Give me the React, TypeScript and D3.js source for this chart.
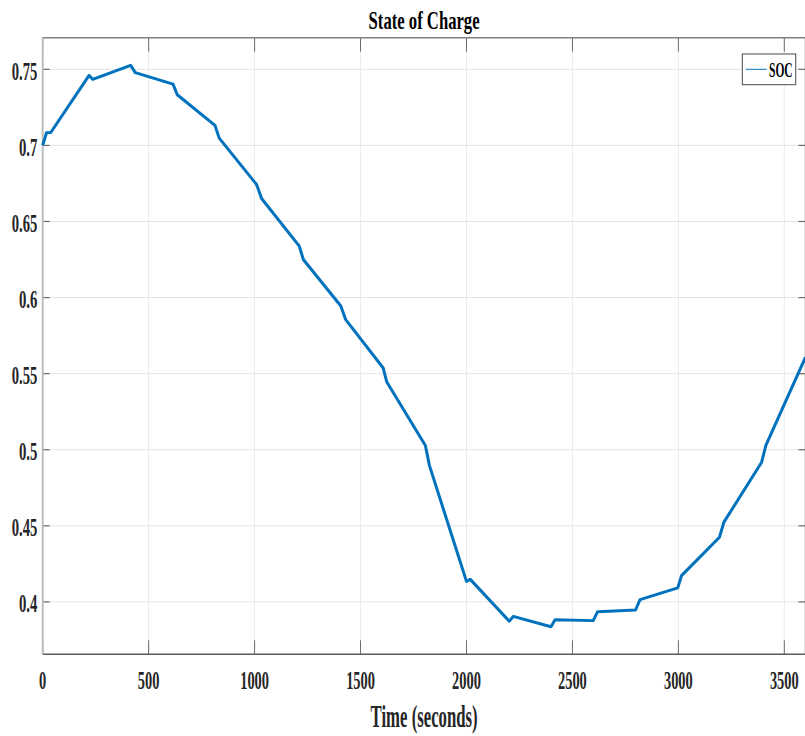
import React from "react";
import * as d3 from "d3";

const timeSec: number[] = [0, 18, 38, 219, 236, 415, 437, 615, 635, 813, 833, 1010, 1033, 1211, 1230, 1407, 1430, 1607, 1624, 1806, 1825, 2000, 2018, 2202, 2221, 2399, 2418, 2598, 2619, 2798, 2819, 2997, 3015, 3194, 3215, 3393, 3413, 3600];
const socValues: number[] = [0.700, 0.7083, 0.7085, 0.7460, 0.7434, 0.7526, 0.7478, 0.7403, 0.7333, 0.7132, 0.7048, 0.6742, 0.6651, 0.6338, 0.6250, 0.5945, 0.5855, 0.5537, 0.5445, 0.5028, 0.4897, 0.4135, 0.4148, 0.3873, 0.3905, 0.3837, 0.3883, 0.3877, 0.3936, 0.3947, 0.4015, 0.4092, 0.4173, 0.4425, 0.4524, 0.4918, 0.5028, 0.5608];
const xTicks: number[] = [0, 500, 1000, 1500, 2000, 2500, 3000, 3500];
const yTicks: number[] = [0.4, 0.45, 0.5, 0.55, 0.6, 0.65, 0.7, 0.75];
const yTickLabels: string[] = ["0.4", "0.45", "0.5", "0.55", "0.6", "0.65", "0.7", "0.75"];
const titleText = "State of Charge";
const xLabelText = "Time (seconds)";
const legendLabel = "SOC";

const W = 805, H = 736;
const L = 42.7, R = 805.5, T = 37.7, B = 654.3;
const FONT = "'Liberation Serif', 'Times New Roman', serif";
const BLUE = "#0072BD";

function labelLen(s: string): number {
  let w = 0;
  for (const c of s) w += c === "." ? 4 : 7.2;
  return w;
}

export default function App() {
  const x = d3.scaleLinear().domain([0, 3600]).range([L, R]);
  const y = d3.scaleLinear().domain([0.36557, 0.77078]).range([B, T]);
  const pts: [number, number][] = timeSec.map((t, i) => [t, socValues[i]]);
  const line = d3.line<[number, number]>().x(d => x(d[0])).y(d => y(d[1]));

  return (
    <svg width={W} height={H} style={{ position: "absolute", left: 0, top: 0, background: "#fff" }} fontFamily={FONT}>
      <rect x={0} y={0} width={W} height={H} fill="#fff" />
      {/* grid */}
      {xTicks.map(t => (
        <line key={"gx" + t} x1={x(t)} x2={x(t)} y1={T} y2={B} stroke="#ebebeb" strokeWidth={1} />
      ))}
      {yTicks.map(t => (
        <line key={"gy" + t} x1={L} x2={R} y1={y(t)} y2={y(t)} stroke="#e3e3e3" strokeWidth={1} />
      ))}
      {/* ticks */}
      {xTicks.map(t => (
        <g key={"tx" + t}>
          <line x1={x(t)} x2={x(t)} y1={B} y2={B - 14} stroke="#6b6b6b" strokeWidth={1} />
          <line x1={x(t)} x2={x(t)} y1={T} y2={T + 14} stroke="#6b6b6b" strokeWidth={1} />
        </g>
      ))}
      {yTicks.map(t => (
        <g key={"ty" + t}>
          <line x1={L} x2={L + 7} y1={y(t)} y2={y(t)} stroke="#6b6b6b" strokeWidth={1.2} />
          <line x1={R - 7} x2={R} y1={y(t)} y2={y(t)} stroke="#6b6b6b" strokeWidth={1.2} />
        </g>
      ))}
      {/* axes box */}
      <line x1={L} x2={R} y1={T} y2={T} stroke="#808080" strokeWidth={1.5} />
      <line x1={L} x2={R} y1={B} y2={B} stroke="#5a5a5a" strokeWidth={1.5} />
      <line x1={L} x2={L} y1={T} y2={B} stroke="#bdbdbd" strokeWidth={2} />
      <line x1={R} x2={R} y1={T} y2={B} stroke="#808080" strokeWidth={1.5} />
      {/* data */}
      <path d={line(pts) || ""} fill="none" stroke={BLUE} strokeWidth={3} strokeLinejoin="round" />
      {/* tick labels */}
      {xTicks.map(t => {
        const s = String(t);
        return (
          <text key={"lx" + t} x={x(t)} y={689} textAnchor="middle" fontSize={25} fontWeight="bold" fill="#262626"
            textLength={labelLen(s)} lengthAdjust="spacingAndGlyphs">{s}</text>
        );
      })}
      {yTicks.map((t, i) => {
        const s = yTickLabels[i];
        return (
          <text key={"ly" + t} x={37.3} y={y(t) + 10.2} textAnchor="end" fontSize={25} fontWeight="bold" fill="#262626"
            textLength={labelLen(s)} lengthAdjust="spacingAndGlyphs">{s}</text>
        );
      })}
      {/* title */}
      <text x={(L + R) / 2} y={28.5} textAnchor="middle" fontSize={25} fontWeight="bold" fill="#000"
        textLength={111} lengthAdjust="spacingAndGlyphs">{titleText}</text>
      {/* x label */}
      <text x={(L + R) / 2} y={727} textAnchor="middle" fontSize={31} fontWeight="bold" fill="#262626"
        textLength={107} lengthAdjust="spacingAndGlyphs">{xLabelText}</text>
      {/* legend */}
      <rect x={742.3} y={54} width={53.4} height={30.7} fill="#fff" stroke="#4a4a4a" strokeWidth={1} />
      <line x1={745.7} x2={766.7} y1={69.3} y2={69.3} stroke={BLUE} strokeWidth={1} />
      <text x={769} y={77.3} fontSize={21} fontWeight="bold" fill="#000" textLength={23.7} lengthAdjust="spacingAndGlyphs">{legendLabel}</text>
    </svg>
  );
}
